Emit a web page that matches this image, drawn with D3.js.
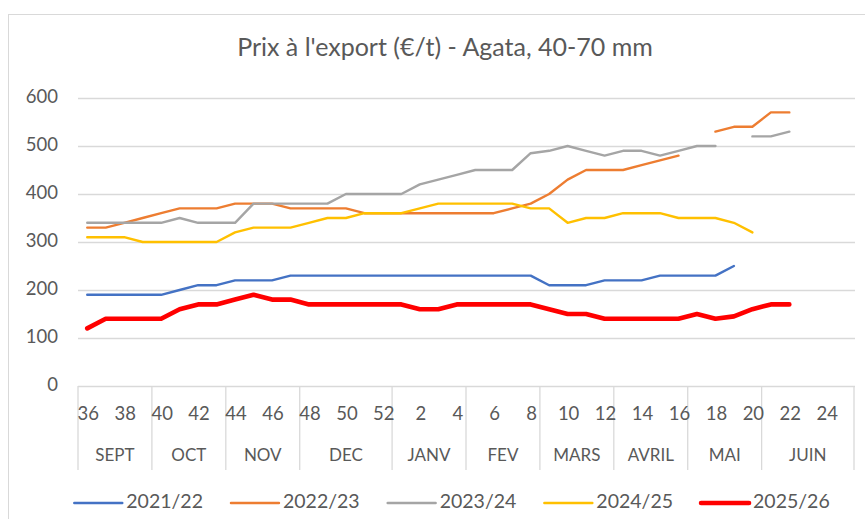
<!DOCTYPE html>
<html>
<head>
<meta charset="utf-8">
<script src="https://cdn.jsdelivr.net/npm/d3@7"></script>
<style>
  body { margin: 0; background: #fff; }
  text { font-family: Lato, "Open Sans", sans-serif; fill: #595959; }
</style>
</head>
<body>
<div id="wrapper"></div>
<script>
const weeks = [36,37,38,39,40,41,42,43,44,45,46,47,48,49,50,51,52,1,2,3,4,5,6,7,8,9,10,11,12,13,14,15,16,17,18,19,20,21,22,23,24,25];
const months = [
  {name: "SEPT", n: 4}, {name: "OCT", n: 4}, {name: "NOV", n: 4}, {name: "DEC", n: 5},
  {name: "JANV", n: 4}, {name: "FEV", n: 4}, {name: "MARS", n: 4}, {name: "AVRIL", n: 4},
  {name: "MAI", n: 4}, {name: "JUIN", n: 5}
];
const yTicks = [0, 100, 200, 300, 400, 500, 600];

const s2021 = [190,190,190,190,190,200,210,210,220,220,220,230,230,230,230,230,230,230,230,230,230,230,230,230,230,210,210,210,220,220,220,230,230,230,230,250];
const s2022 = [330,330,340,350,360,370,370,370,380,380,380,370,370,370,370,360,360,360,360,360,360,360,360,370,380,400,430,450,450,450,460,470,480,null,530,540,540,570,570];
const s2023 = [340,340,340,340,340,350,340,340,340,380,380,380,380,380,400,400,400,400,420,430,440,450,450,450,485,490,500,490,480,490,490,480,490,500,500,null,520,520,530];
const s2024 = [310,310,310,300,300,300,300,300,320,330,330,330,340,350,350,360,360,360,370,380,380,380,380,380,370,370,340,350,350,360,360,360,350,350,350,340,320];
const s2025 = [120,140,140,140,140,160,170,170,180,190,180,180,170,170,170,170,170,170,160,160,170,170,170,170,170,160,150,150,140,140,140,140,140,150,140,145,160,170,170];

const series = [
  {name: "2021/22", values: s2021, color: "#4472C4", width: 2.4},
  {name: "2022/23", values: s2022, color: "#ED7D31", width: 2.4},
  {name: "2023/24", values: s2023, color: "#A5A5A5", width: 2.4},
  {name: "2024/25", values: s2024, color: "#FFC000", width: 2.4},
  {name: "2025/26", values: s2025, color: "#FF0000", width: 4.6}
];

const width = 865, height = 519;
const plot = {left: 78, right: 854, top: 98, bottom: 386};

const svg = d3.select("#wrapper").append("svg")
  .attr("width", width)
  .attr("height", height);

// frame
svg.append("rect")
  .attr("x", 8.5).attr("y", 14.5)
  .attr("width", 900).attr("height", 600)
  .attr("fill", "none").attr("stroke", "#D9D9D9");

svg.append("text")
  .attr("x", 445).attr("y", 50)
  .attr("text-anchor", "middle")
  .attr("dominant-baseline", "middle")
  .style("font-size", "25px")
  .text("Prix à l'export (€/t) - Agata, 40-70 mm");

const xScale = d3.scaleBand().domain(weeks).range([plot.left, plot.right]).padding(0);
const yScale = d3.scaleLinear().domain([0, 600]).range([plot.bottom, plot.top]);

// gridlines
svg.append("g").selectAll("line")
  .data(yTicks.filter(d => d > 0))
  .join("line")
  .attr("x1", plot.left).attr("x2", plot.right + 1)
  .attr("y1", d => yScale(d) + 0.5).attr("y2", d => yScale(d) + 0.5)
  .attr("stroke", "#D9D9D9").attr("stroke-width", 1.3);

// y labels
svg.append("g").selectAll("text")
  .data(yTicks)
  .join("text")
  .attr("x", 58).attr("y", d => yScale(d))
  .attr("text-anchor", "end")
  .attr("dominant-baseline", "middle")
  .style("font-size", "18.5px")
  .text(d => d);

// x axis line + category separators
svg.append("line")
  .attr("x1", plot.left).attr("x2", plot.right + 1)
  .attr("y1", plot.bottom + 0.5).attr("y2", plot.bottom + 0.5)
  .attr("stroke", "#D9D9D9").attr("stroke-width", 1.3);

let acc = 0;
const monthPos = months.map(m => {
  const startWeek = weeks[acc];
  const endWeek = weeks[acc + m.n - 1];
  acc += m.n;
  return {
    name: m.name,
    x0: xScale(startWeek),
    x1: xScale(endWeek) + xScale.bandwidth()
  };
});

const seps = [monthPos[0].x0].concat(monthPos.map(m => m.x1));
svg.append("g").selectAll("line")
  .data(seps)
  .join("line")
  .attr("x1", d => d).attr("x2", d => d)
  .attr("y1", plot.bottom).attr("y2", 470)
  .attr("stroke", "#D9D9D9").attr("stroke-width", 1.3);

svg.append("g").selectAll("text")
  .data(weeks.filter((d, i) => i % 2 === 0))
  .join("text")
  .attr("x", d => xScale(d) + xScale.bandwidth() / 2 + 1)
  .attr("y", 415)
  .attr("text-anchor", "middle")
  .attr("dominant-baseline", "middle")
  .style("font-size", "18.5px")
  .text(d => d);

svg.append("g").selectAll("text")
  .data(monthPos)
  .join("text")
  .attr("x", d => (d.x0 + d.x1) / 2)
  .attr("y", 457)
  .attr("text-anchor", "middle")
  .attr("dominant-baseline", "middle")
  .style("font-size", "17px")
  .text(d => d.name);

// lines
const lineGenerator = d3.line()
  .defined(d => d.v != null)
  .x(d => xScale(d.w) + xScale.bandwidth() / 2)
  .y(d => yScale(d.v));

svg.append("g").selectAll("path")
  .data(series)
  .join("path")
  .attr("d", s => lineGenerator(s.values.map((v, i) => ({w: weeks[i], v: v}))))
  .attr("fill", "none")
  .attr("stroke", s => s.color)
  .attr("stroke-width", s => s.width)
  .attr("stroke-linejoin", "round")
  .attr("stroke-linecap", "round");

// legend
const legend = svg.append("g");
const items = legend.selectAll("g")
  .data(series)
  .join("g");
items.append("line")
  .attr("x1", 0).attr("x2", 48)
  .attr("y1", 0).attr("y2", 0)
  .attr("stroke", d => d.color)
  .attr("stroke-width", d => d.width)
  .attr("stroke-linecap", "round");
items.append("text")
  .attr("x", 52).attr("y", 0)
  .attr("dominant-baseline", "middle")
  .style("font-size", "19.5px")
  .text(d => d.name);

let lx = 0;
items.each(function() {
  const w = 52 + d3.select(this).select("text").node().getComputedTextLength();
  d3.select(this).attr("transform", `translate(${lx},0)`);
  lx += w + 28;
});
const legendW = lx - 28;
legend.attr("transform", `translate(${452 - legendW / 2},503)`);
</script>
</body>
</html>
